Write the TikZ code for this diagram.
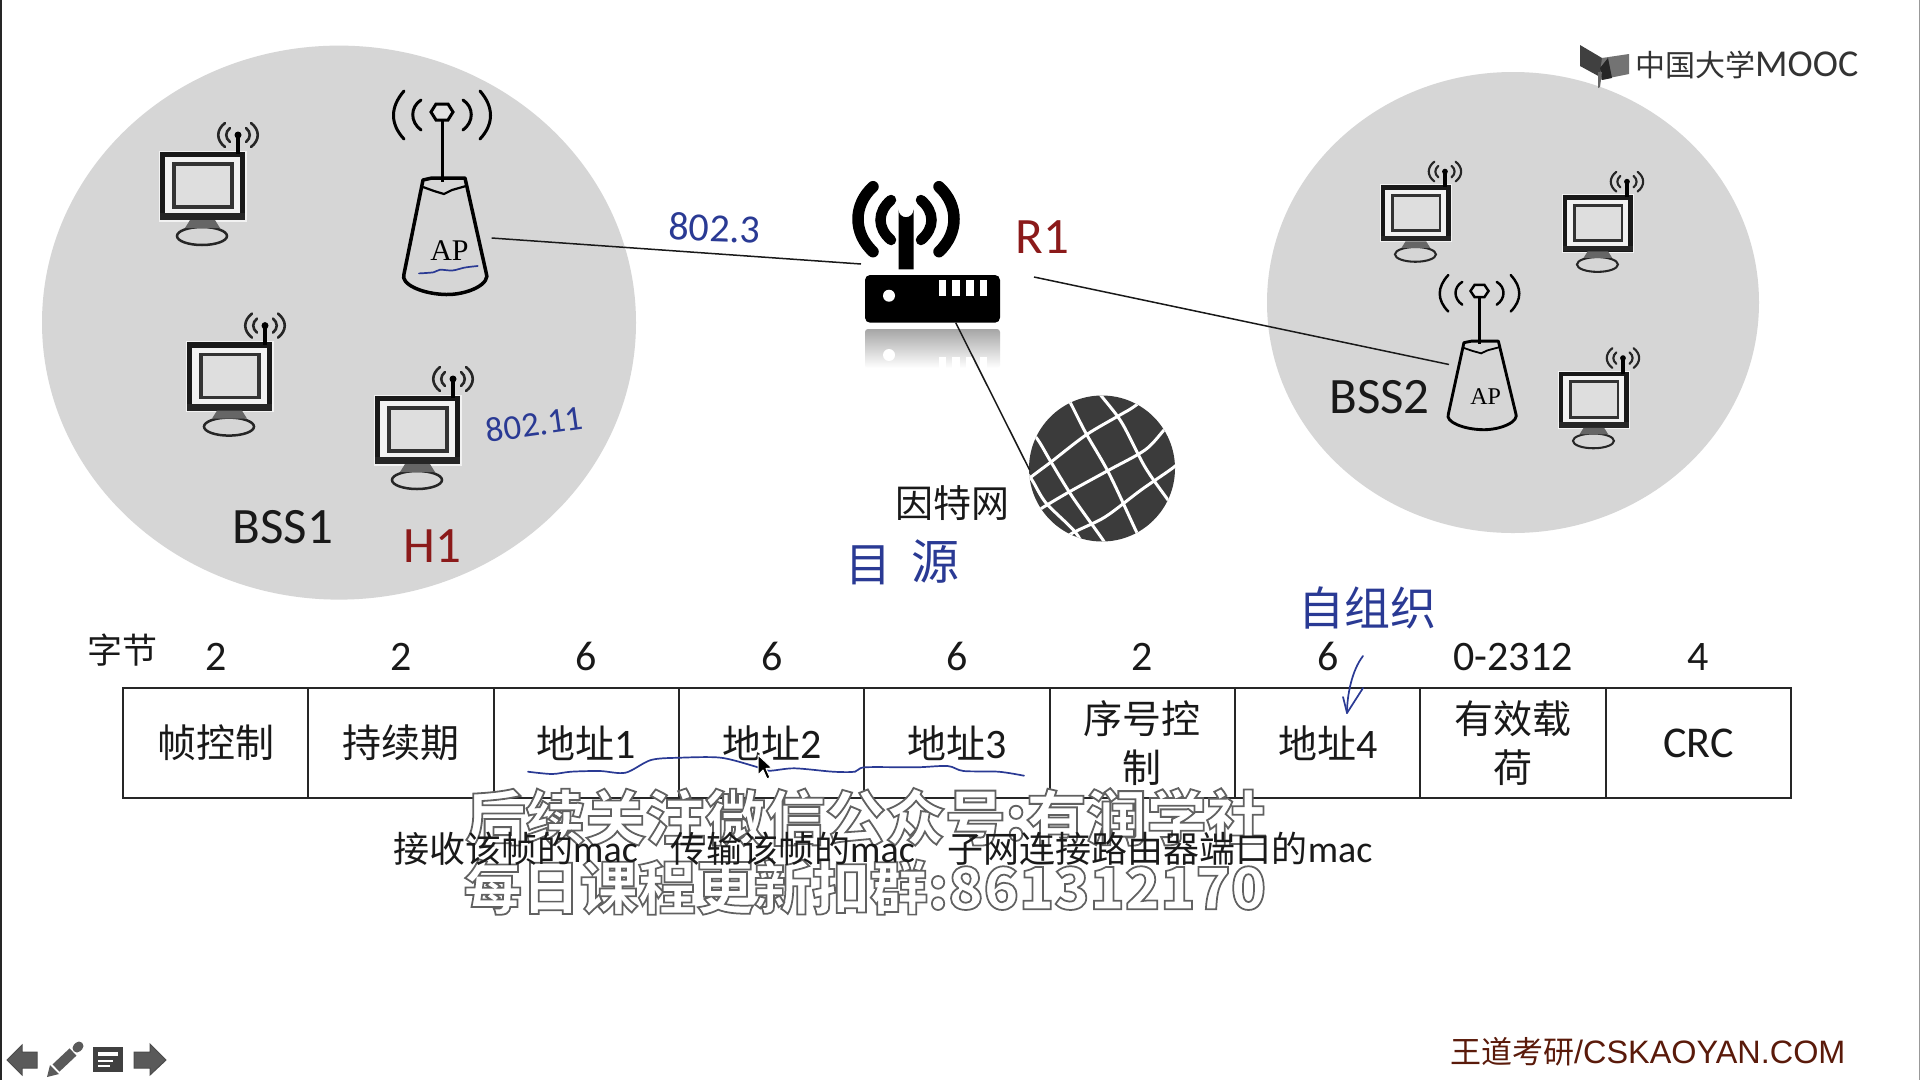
\documentclass[tikz,border=0pt]{standalone}
\usepackage{fontspec}
\usetikzlibrary{shapes.geometric}
\setmainfont{Carlito}
\newfontfamily\cjk{Noto Sans CJK SC}
\newfontfamily\arialish{Liberation Sans}
\newfontfamily\wmf[FakeBold=3]{Noto Sans CJK SC}
\newcommand\fsz[1]{\fontsize{#1pt}{#1pt}\selectfont}
\newcommand\zh[1]{{\cjk #1}}
\newcommand\dg[1]{{\fsz{42}#1}}
\newcommand\wmtext[1]{\special{pdf:bcolor [1] [0.38]}{\wmf\bfseries #1}\special{pdf:ecolor}}
\definecolor{circ}{HTML}{D6D6D6}
\definecolor{ink}{HTML}{2A3A94}
\definecolor{redlab}{HTML}{8B1A1A}
\definecolor{brownlab}{HTML}{5A1A0A}
\definecolor{navgray}{HTML}{5A5A5A}
\tikzset{
  pen/.style={draw=ink,line width=1.7pt,line cap=round,line join=round},
  hand/.style={text=ink,inner sep=0pt},
  lab/.style={inner sep=0pt,text=black!90},
  wire/.style={draw=black!90,line width=1.5pt},
  cell/.style={draw=black!85,line width=2pt,minimum width=185.33pt,minimum height=110.5pt,inner sep=0pt,outer sep=0pt,align=center,text=black!90,font=\fsz{39}},
  headnum/.style={inner sep=0pt,text=black!90,font=\fsz{42}}
}
% name, x, y, s
\newcommand\computer[4]{%
\begin{scope}[shift={(#2,#3)},scale=#4]
  \coordinate (#1) at (42,34);
  \draw[white,opacity=.7,line width=#4*8pt] (2.5,2.5) rectangle (82.5,65.5);
  \draw[black!90,fill=black!5,line width=#4*5.5pt] (2.5,2.5) rectangle (82.5,65.5);
  \draw[black!80,fill=circ!80!white,line width=#4*3.5pt] (14,12) rectangle (72,55);
  \fill[black!85] (0,61) rectangle (85,68);
  \draw[black!85,fill=circ,line width=#4*2.5pt] (42,84) ellipse [x radius=25,y radius=9];
  \fill[black!60] (30,68) -- (55,68) -- (60,76) -- (25,76) -- cycle;
  \draw[black,line width=#4*4pt] (78,2) -- (78,-17);
  \fill[black] (78,-17) circle [radius=3.5];
  \draw[black!85,line width=#4*2.6pt,line cap=round]
    (70,-24) .. controls (65,-20) and (65,-14) .. (70,-10)
    (86,-24) .. controls (91,-20) and (91,-14) .. (86,-10)
    (65,-29) .. controls (56,-22) and (56,-12) .. (65,-5)
    (91,-29) .. controls (100,-22) and (100,-12) .. (91,-5);
\end{scope}}
% name, x, y, xscale, yscale, font size
\newcommand\apicon[6]{%
\begin{scope}[shift={(#2,#3)},xscale=#4,yscale=#5]
  \draw[black,line width=#4*3.5pt,line join=round]
    (-19,68) -- (-10,66) -- (23,66) -- (44,160) .. controls (50,172) and (25,183) .. (4,182.5)
    .. controls (-20,182) and (-42,172) .. (-38,162) -- cycle;
  \draw[black,line width=#4*2.2pt] (-19,75) -- (-8,79) -- (2,82) -- (10,78) -- (24,74);
  \draw[black,line width=#4*3pt] (0,8) -- (0,70);
  \draw[black,fill=white!30!circ,line width=#4*3pt] (-11,0) -- (-6,-8) -- (6,-8) -- (11,0) -- (6,8) -- (-6,8) -- cycle;
  \draw[black,line width=#4*3pt,line cap=round]
    (-21,-12) .. controls (-32,-5) and (-32,10) .. (-21,18)
    (21,-12) .. controls (32,-5) and (32,10) .. (21,18)
    (-38,-21) .. controls (-52,-5) and (-52,12) .. (-38,27)
    (38,-21) .. controls (52,-5) and (52,12) .. (38,27);
  \node[inner sep=0pt,text=black,font={\arialish\fontspec{Liberation Serif}\fsz{#6}}] (#1) at (7.5,139) {AP};
\end{scope}}
\begin{document}
\begin{tikzpicture}[x=1pt,y=-1pt]
\useasboundingbox (0,0) rectangle (1920,1080);
\fill[white] (0,0) rectangle (1920,1080);
\fill[black!85] (0,0) rectangle (1.5,1080);
\fill[black!40] (1918.5,0) rectangle (1920,1080);

% BSS discs
\node[ellipse,fill=circ,minimum width=594pt,minimum height=554pt,inner sep=0pt] (bssone) at (339,322.6) {};
\node[ellipse,fill=circ,minimum width=492pt,minimum height=461pt,inner sep=0pt] (bsstwo) at (1513,302.5) {};

% logo
\fill[black!75] (1580,45) -- (1602,58) -- (1602,78) -- (1580,66) -- cycle;
\fill[black!55] (1602,58) -- (1629,54) -- (1629,74) -- (1599,80) -- cycle;
\fill[black!85] (1608,58) -- (1612,78) -- (1602,80) -- (1600,68) -- cycle;
\fill[black!60] (1598,72) -- (1602,72) -- (1600,87) -- (1598,88) -- cycle;
\node[anchor=west,inner sep=0pt,text=black!80] (logo) at (1635,65) {\zh{\fsz{30}中国大学}\fsz{38}MOOC};

% computers
\computer{pca}{160}{152}{1}
\computer{pcb}{187}{342.6}{1}
\computer{pcc}{375}{396}{1}
\computer{pcd}{1381}{185.5}{.82}
\computer{pce}{1563}{195.6}{.82}
\computer{pcf}{1559}{372}{.82}
\apicon{apone}{442}{112}{1}{1}{30}
\apicon{aptwo}{1479.5}{291}{.82}{.76}{24}
\draw[pen] plot[smooth] coordinates {(419,273.4) (433.5,272.3) (440,269.7) (452.4,270.5) (465,267.5) (477.7,266)};

% router
\fill[black] (906,202.7) ++(-7.5,7) arc[start angle=180,end angle=0,radius=7.5] -- (913.5,269.3) -- (898.5,269.3) -- cycle;
\draw[black,line width=10.5pt,line cap=round]
  (891,200) .. controls (877,212) and (877,228) .. (891,240)
  (921,200) .. controls (935,212) and (935,228) .. (921,240);
\draw[black,line width=11.5pt,line cap=round]
  (873,186.7) .. controls (853,205) and (853,233) .. (873,251.7)
  (939,186.7) .. controls (959,205) and (959,233) .. (939,251.7);
\node[draw=none,fill=black,rounded corners=5pt,minimum width=135pt,minimum height=47.7pt,inner sep=0pt] (router) at (932.5,298.85) {};
\fill[white] (889,295.7) circle [radius=6];
\foreach \bx in {938.5,952,966,979.5} \fill[white] (\bx,280) rectangle ++(7.5,15.7);
\shade[top color=black!35,bottom color=white,rounded corners=3pt] (865,329) rectangle (1000,368);
\fill[white] (889,355) circle [radius=6];
\foreach \bx in {938.5,952,966,979.5} \fill[white] (\bx,357) rectangle ++(7.5,11);

% globe
\node[circle,fill=black!77,minimum size=146pt,inner sep=0pt] (globe) at (1102,468.5) {};
\begin{scope}
\clip (1102,468.5) circle [radius=73];
\foreach \pts in {
  {(1058,380) (1070.5,403) (1085.8,433) (1108.8,473) (1135.6,530) (1150,560)},
  {(1088,380) (1103,398) (1122,423) (1145,467) (1168,500) (1190,530)},
  {(1022,420) (1038,440) (1051,462) (1072.5,497) (1103,540) (1115,560)},
  {(1020,465) (1032,480) (1046,503) (1076,533) (1090,560)},
  {(1020,490) (1030,478) (1051,462) (1086,435) (1120,415) (1132,408) (1150,395)},
  {(1020,522) (1042,508) (1069,492) (1109,470) (1145,450) (1164,430) (1185,405)},
  {(1050,548) (1072.5,533) (1105,517) (1141,490) (1174,467) (1190,452)}}
  \draw[white,line width=3pt] plot[smooth] coordinates \pts;
\end{scope}

% connectors
\coordinate (apport) at (491.6,238);
\coordinate (rw) at (861,264);
\coordinate (re) at (1034,277);
\coordinate (aptwoport) at (1449,364.5);
\coordinate (rs) at (955.7,322.7);
\coordinate (gport) at (1029.6,470);
\draw[wire] (apport) -- (rw);
\draw[wire] (re) -- (aptwoport);
\draw[wire] (rs) -- (gport);

% labels
\node[lab,font=\fsz{51}] (bssonelab) at (283,527.6) {BSS1};
\node[lab,font=\fsz{51}] (bsstwolab) at (1379.5,397) {BSS2};
\node[inner sep=0pt,text=redlab,font=\fsz{51}] (hone) at (432.7,546) {H1};
\node[inner sep=0pt,text=redlab,font=\fsz{51}] (rone) at (1042.6,236.7) {R1};
\node[lab,font=\fsz{38}] (inet) at (952,503) {\zh{因特网}};
\node[hand,font=\fsz{40},rotate=-2] (wired) at (714.6,228) {802.3};
\node[hand,font=\fsz{35},rotate=8] (wifi) at (534.5,424) {802.11};
\node[hand,font=\fsz{46}] (mu) at (868,565) {\zh{目}};
\node[hand,font=\fsz{48}] (yuan) at (935,562) {\zh{源}};
\node[hand,font=\fsz{46}] (zzz) at (1367,608) {\zh{自组织}};

% table
\node[lab,font=\fsz{35}] (bytes) at (122,650) {\zh{字节}};
\foreach \i/\n/\t in {0/2/\zh{帧控制},1/2/\zh{持续期},2/6/\zh{地址}\dg{1},3/6/\zh{地址}\dg{2},4/6/\zh{地址}\dg{3},5/2/\zh{序号控}\\[10pt]\zh{制},6/6/\zh{地址}\dg{4},7/0-2312/\zh{有效载}\\[10pt]\zh{荷},8/4/{\fsz{44}CRC}}{
  \node[cell] (cell\i) at ({123+185.33*(\i+.5)},743) {\t};
  \node[headnum] (num\i) at (cell\i.center |- 0,656.7) {\n};
}
\draw[pen] plot[smooth,tension=.5] coordinates {(528,771.7) (552,774) (571,771.7) (600,771) (625.5,772.7) (651,760) (680,757.7) (721,757.7) (756,766.7) (769,770.7) (794.5,768.3) (833,771.7) (855,771.7) (865,767.3) (916,767.3) (947.6,766) (963.5,771) (998.6,771.7) (1024,775.7)};
% arrow by hand
\coordinate (arrowtail) at (1363,656);
\coordinate (arrowhead) at (1347,713);
\draw[pen] (arrowtail) .. controls (1352,670) and (1347,695) .. (arrowhead);
\draw[pen] (1343,697) -- (arrowhead) -- (1363,688);
% mouse pointer
\draw[white,fill=black,line width=1pt,line join=round] (758,755) -- (758,775) -- (763,770) -- (767,779) -- (770,777.5) -- (766,768.5) -- (772,768) -- cycle;

% overlay captions
\node[inner sep=0pt,font=\fsz{60}] (wmone) at (866,817) {\wmtext{后续关注微信公众号:有润学社}};
\node[inner sep=0pt,font=\fsz{58}] (wmtwo) at (865,887) {\wmtext{每日课程更新扣群:861312170}};
\node[lab,anchor=west,font=\fsz{36}] (macone) at (393,848.6) {\zh{接收该帧的}{\fsz{38}mac}};
\node[lab,anchor=west,font=\fsz{36}] (mactwo) at (670,848.6) {\zh{传输该帧的}{\fsz{38}mac}};
\node[lab,anchor=west,font=\fsz{36}] (macthree) at (947.6,848.6) {\zh{子网连接路由器端口的}{\fsz{38}mac}};

% bottom right credit
\node[inner sep=0pt,anchor=west,text=brownlab] (credit) at (1450,1052) {\zh{\fsz{31}王道考研}\arialish\fsz{32.4}/CSKAOYAN.COM};

% navigation icons
\fill[navgray,draw=black!70,line width=1pt] (7,1060) -- (22,1045) -- (22,1052) -- (37,1052) -- (37,1068) -- (22,1068) -- (22,1075) -- cycle;
\fill[navgray,draw=black!70,line width=1pt] (166,1060) -- (150,1044) -- (150,1052) -- (134,1052) -- (134,1068) -- (150,1068) -- (150,1075) -- cycle;
\draw[navgray,line width=10pt] (56,1068) -- (73,1052);
\draw[navgray,line width=9pt,line cap=round] (77,1048) -- (79,1046);
\fill[navgray] (47,1077) -- (50,1065) -- (59,1074) -- cycle;
\fill[black!75] (93,1047) rectangle (123,1072);
\fill[white] (98,1052) rectangle (118,1056);
\fill[white] (98,1060) rectangle (113,1062);
\fill[white] (98,1065) rectangle (110,1067);
\end{tikzpicture}
\end{document}
